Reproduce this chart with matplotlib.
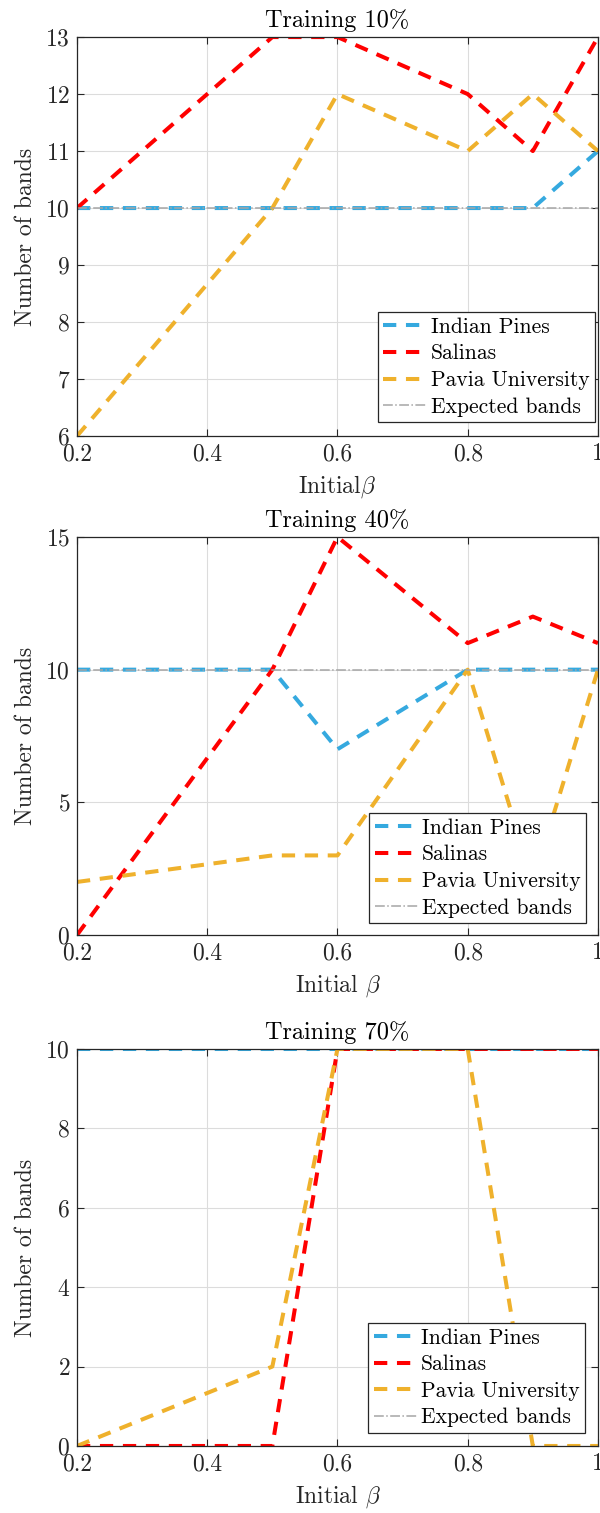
import matplotlib
matplotlib.use('Agg')
import matplotlib.pyplot as plt

plt.rcParams['font.family'] = ['cmr10']
plt.rcParams['mathtext.fontset'] = 'cm'
plt.rcParams['axes.formatter.use_mathtext'] = True

# x positions of the runs (initial beta)
beta = [0.2, 0.5, 0.6, 0.8, 0.9, 1.0]
expected = [10, 10, 10, 10, 10, 10]

# training 10%
indian_10 = [10, 10, 10, 10, 10, 11]
salinas_10 = [10, 13, 13, 12, 11, 13]
pavia_10 = [6, 10, 12, 11, 12, 11]

# training 40%
indian_40 = [10, 10, 7, 10, 10, 10]
salinas_40 = [0, 10, 15, 11, 12, 11]
pavia_40 = [2, 3, 3, 10, 2, 10]

# training 70%
indian_70 = [10, 10, 10, 10, 10, 10]
salinas_70 = [0, 0, 10, 10, 10, 10]
pavia_70 = [0, 2, 10, 10, 0, 0]

titles = ['Training 10%', 'Training 40%', 'Training 70%']
xlabels = [r'Initial$\beta$', r'Initial $\beta$', r'Initial $\beta$']
ylims = [(6, 13), (0, 15), (0, 10)]
yticks = [range(6, 14), [0, 5, 10, 15], [0, 2, 4, 6, 8, 10]]
xticks = [0.2, 0.4, 0.6, 0.8, 1.0]
xticklabels = ['0.2', '0.4', '0.6', '0.8', '1']
series_names = ['Indian Pines', 'Salinas', 'Pavia University', 'Expected bands']

c_blue = '#35A9DF'
c_red = '#FF0000'
c_orange = '#EFB12C'
c_gray = '#A6A6A6'
c_axes = '#262626'

data = [(indian_10, salinas_10, pavia_10),
        (indian_40, salinas_40, pavia_40),
        (indian_70, salinas_70, pavia_70)]

# axes rectangles in figure fraction (left, bottom, width, height)
rects = [(0.1283, 0.7118, 0.8683, 0.2637),
         (0.1283, 0.3820, 0.8683, 0.2631),
         (0.1283, 0.0443, 0.8683, 0.2624)]
legend_anchor = [(0.994, 0.035), (0.977, 0.030), (0.975, 0.033)]

fig = plt.figure(figsize=(6, 15.13), dpi=100)

for i in range(3):
    ax = fig.add_axes(rects[i])
    ind, sal, pav = data[i]
    dash = (3.3, 2.4)
    ax.plot(beta, ind, color=c_blue, lw=2.9, linestyle='--', dashes=dash, label=series_names[0])
    ax.plot(beta, sal, color=c_red, lw=2.9, linestyle='--', dashes=dash, label=series_names[1])
    ax.plot(beta, pav, color=c_orange, lw=2.9, linestyle='--', dashes=dash, label=series_names[2])
    ax.plot(beta, expected, color=c_gray, lw=1.1, linestyle='-.', label=series_names[3])

    ax.set_xlim(0.2, 1.0)
    ax.set_ylim(*ylims[i])
    ax.set_xticks(xticks)
    ax.set_xticklabels(xticklabels)
    ax.set_yticks(list(yticks[i]))
    ax.grid(True, color='#DCDCDC', lw=0.8)
    ax.set_axisbelow(True)
    ax.tick_params(direction='in', top=True, right=True, length=5, width=0.8,
                   colors=c_axes, labelsize=17, pad=5)
    for s in ax.spines.values():
        s.set_color(c_axes)
        s.set_linewidth(0.9)

    ax.set_title(titles[i], fontsize=17.5, color='black', pad=7)
    ax.set_xlabel(xlabels[i], fontsize=17, color=c_axes, labelpad=6)
    ax.set_ylabel('Number of bands', fontsize=17, color=c_axes, labelpad=6)

    leg = ax.legend(loc='lower right', bbox_to_anchor=legend_anchor[i], borderaxespad=0,
                    fontsize=15.5, fancybox=False, framealpha=1, edgecolor=c_axes,
                    handlelength=2.0, handletextpad=0.2, labelspacing=0.33,
                    borderpad=0.25)
    leg.get_frame().set_linewidth(0.9)

fig.savefig('out.png', dpi=100)
